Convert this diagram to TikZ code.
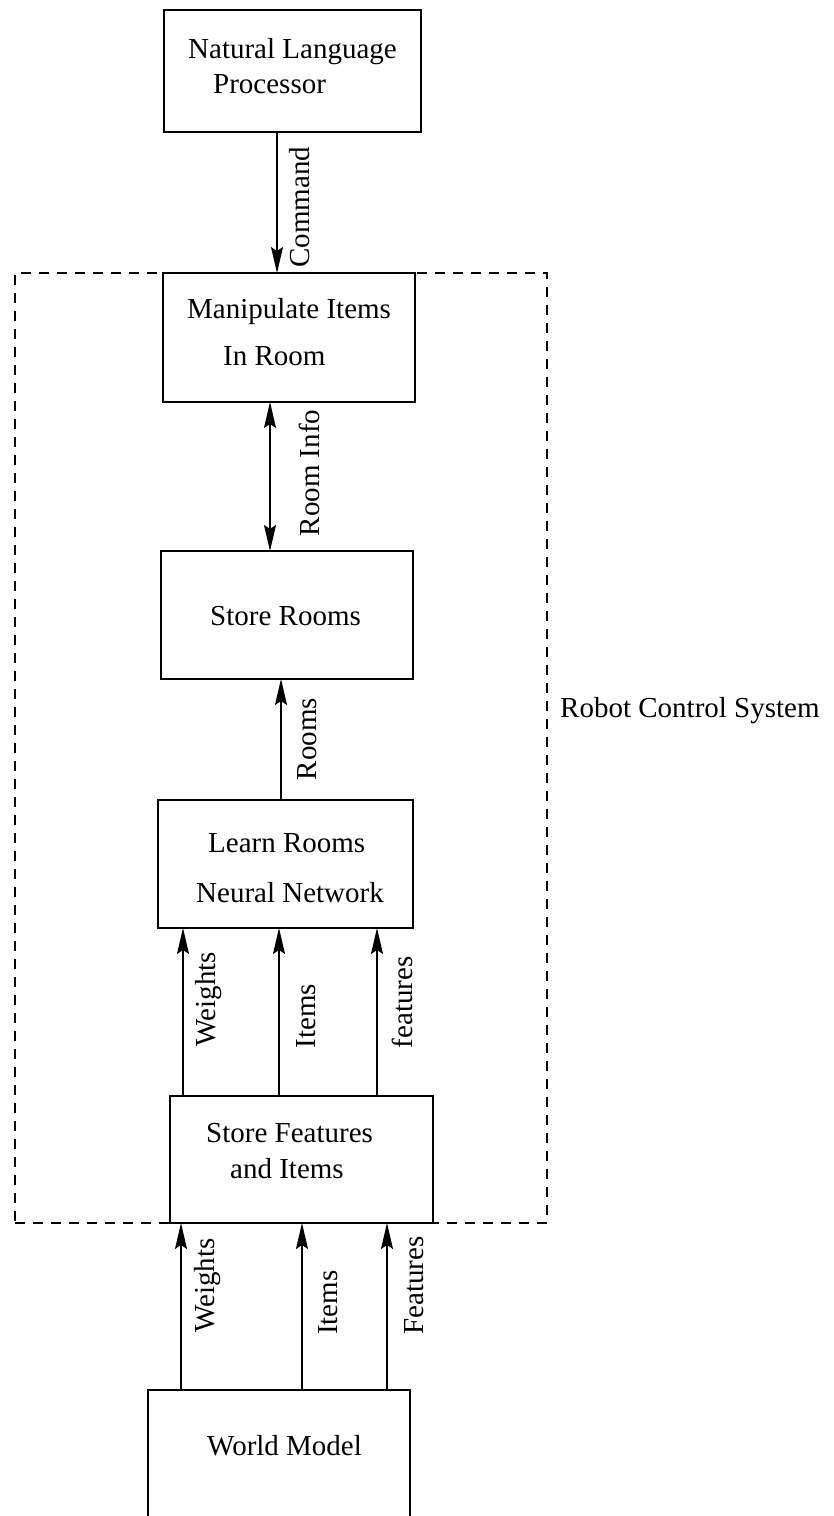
\documentclass[tikz,border=0pt]{standalone}
\usepackage{fontspec}
\setmainfont{Liberation Serif}
\usetikzlibrary{arrows.meta}
\begin{document}
\begin{tikzpicture}[x=1pt,y=-1pt,
  box/.style={draw, line width=1.8pt, inner sep=0pt, outer sep=0pt},
  frame/.style={draw, line width=1.8pt, dash pattern=on 10pt off 8pt, inner sep=0pt, outer sep=0pt},
  txt/.style={font=\fontsize{29}{34}\selectfont, inner sep=0pt, anchor=base west},
  lbl/.style={font=\fontsize{29}{34}\selectfont, inner sep=0pt, rotate=90, anchor=center},
  tip/.tip={Stealth[length=26pt,width=12pt,inset=4pt]},
  arr/.style={line width=1.5pt, -tip},
  darr/.style={line width=1.5pt, tip-tip}]
\useasboundingbox (0,0) rectangle (834,1516);
% dashed system frame
\node[frame, minimum width=532pt, minimum height=950pt] (rcs) at (281,748) {};
\node[txt] (rcsT) at (560,717) {Robot Control System};
% boxes
\node[box, minimum width=257pt, minimum height=122pt] (nlp) at (292.5,71) {};
\node[box, minimum width=252pt, minimum height=129pt] (manip) at (289,337.5) {};
\node[box, minimum width=252pt, minimum height=128pt] (srooms) at (287,615) {};
\node[box, minimum width=255pt, minimum height=128pt] (learn) at (285.5,864) {};
\node[box, minimum width=263pt, minimum height=127pt] (sf) at (301.5,1159.5) {};
\node[box, minimum width=262pt, minimum height=140pt] (world) at (279,1460) {};
% box texts
\node[txt] (nlpA) at (188,58) {Natural Language};
\node[txt] (nlpB) at (213,93) {Processor};
\node[txt] (manA) at (187,318) {Manipulate Items};
\node[txt] (manB) at (223,365) {In Room};
\node[txt] (srT) at (210,625) {Store Rooms};
\node[txt] (leA) at (208,852) {Learn Rooms};
\node[txt] (leB) at (196,902) {Neural Network};
\node[txt] (sfA) at (206,1142) {Store Features};
\node[txt] (sfB) at (230,1178) {and Items};
\node[txt] (wmT) at (207,1455) {World Model};
% connector columns
\coordinate (xc) at (277,0);
\coordinate (xri) at (270,0);
\coordinate (xr) at (281,0);
\coordinate (u1) at (183,0);
\coordinate (u2) at (279,0);
\coordinate (u3) at (377,0);
\coordinate (l1) at (181,0);
\coordinate (l2) at (302,0);
\coordinate (l3) at (387,0);
% connectors
\draw[arr] (nlp.south -| xc) -- (manip.north -| xc);
\draw[darr] (manip.south -| xri) -- (srooms.north -| xri);
\draw[arr] (learn.north -| xr) -- (srooms.south -| xr);
\draw[arr] (sf.north -| u1) -- (learn.south -| u1);
\draw[arr] (sf.north -| u2) -- (learn.south -| u2);
\draw[arr] (sf.north -| u3) -- (learn.south -| u3);
\draw[arr] (world.north -| l1) -- (sf.south -| l1);
\draw[arr] (world.north -| l2) -- (sf.south -| l2);
\draw[arr] (world.north -| l3) -- (sf.south -| l3);
% connector labels
\node[lbl] (cmdL) at (300,207) {Command};
\node[lbl] (riL) at (309,473) {Room Info};
\node[lbl] (roL) at (307.5,739) {Rooms};
\node[lbl] (uwL) at (209,999) {Weights};
\node[lbl] (uiL) at (306,1016) {Items};
\node[lbl] (ufL) at (402.5,1002.5) {features};
\node[lbl] (lwL) at (207.5,1285.5) {Weights};
\node[lbl] (liL) at (328.5,1302.5) {Items};
\node[lbl] (lfL) at (414,1285.5) {Features};
\end{tikzpicture}
\end{document}
